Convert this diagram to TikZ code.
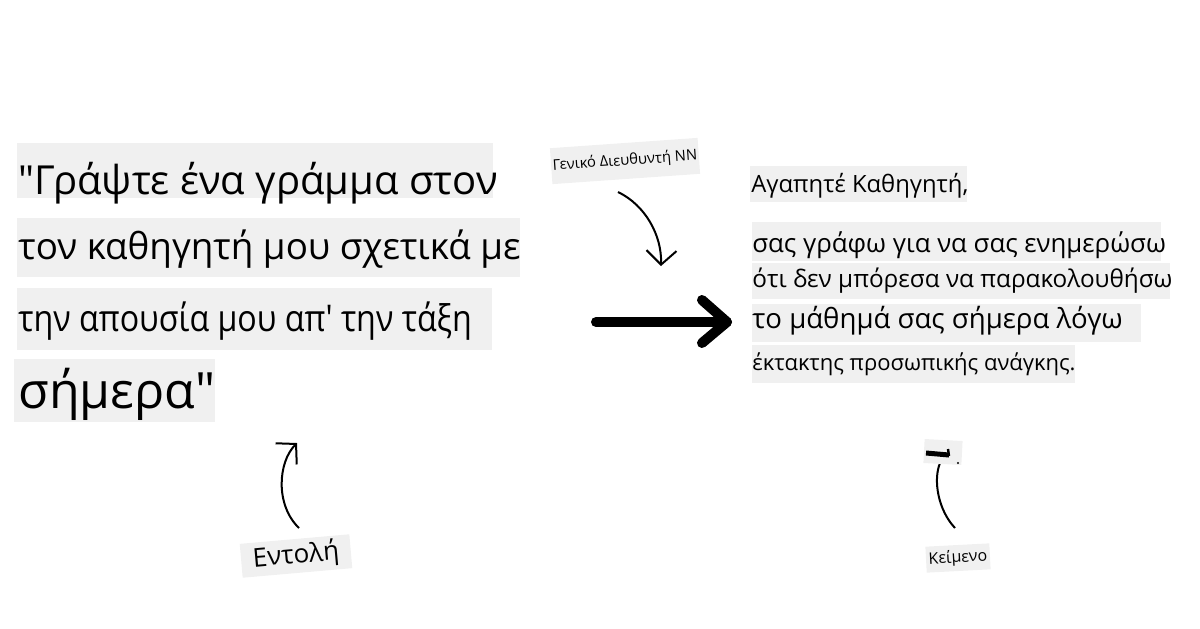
\documentclass[tikz,border=0pt]{standalone}
\usepackage{fontspec}
\setmainfont{Open Sans}[Ligatures=TeXOff]
\usetikzlibrary{arrows.meta}
\definecolor{boxgray}{HTML}{F0F0F0}
\tikzset{
  x=0.5pt, y=-0.5pt,
  txt/.style={inner sep=0pt, anchor=base west, text=black},
  bg/.style={fill=boxgray, draw=none},
  lbl/.style={fill=boxgray, inner sep=0pt, text=black},
  thin arrow/.style={line width=1pt, -{Straight Barb[length=7pt,width=15pt,line width=1pt]}},
  thin curve/.style={line width=1pt},
  big arrow/.style={line width=5pt, line cap=round, line join=round}
}
\newcommand{\fs}[1]{\fontsize{#1pt}{#1pt}\selectfont}
\begin{document}
\begin{tikzpicture}
\useasboundingbox (0,0) rectangle (1200,628);
% left prompt boxes
\fill[bg] (17,143) rectangle (493,198);
\fill[bg] (17,218) rectangle (520,277);
\fill[bg] (17,288) rectangle (492,350);
\fill[bg] (14,359) rectangle (215,422);
\node[txt] (p1) at (18,194) {\fs{20}"Γράψτε ένα γράμμα στον};
\node[txt] (p2) at (18,259) {\fs{18.4}τον καθηγητή μου σχετικά με};
\node[txt] (p3) at (18,331) {\scalebox{0.875}[1]{\fs{18.4}την απουσία μου απ' την τάξη}};
\node[txt] (p4) at (18,408) {\fs{25}σήμερα"};
% right output boxes
\fill[bg] (750,166) rectangle (967,202);
\fill[bg] (752,222) rectangle (1161,261);
\fill[bg] (752,263) rectangle (1170,299);
\fill[bg] (752,304) rectangle (1141,342);
\fill[bg] (752,345) rectangle (1075,383);
\node[txt] (o1) at (751,192) {\fs{11.9}Αγαπητέ Καθηγητή,};
\node[txt] (o2) at (752,252) {\fs{12.9}σας γράφω για να σας ενημερώσω};
\node[txt] (o3) at (752,287) {\fs{12.15}ότι δεν μπόρεσα να παρακολουθήσω};
\node[txt] (o4) at (752,328) {\fs{13.8}το μάθημά σας σήμερα λόγω};
\node[txt] (o5) at (752,370) {\fs{11}έκτακτης προσωπικής ανάγκης.};
% big arrow
\coordinate (bs) at (596,322);
\coordinate (be) at (727,322);
\draw[big arrow] (bs) -- (be);
\draw[big arrow] ([shift={(-25,-22)}]be) -- (be) -- ([shift={(-25,21)}]be);
% labels
\node[lbl, rotate=4, minimum width=74pt, minimum height=18pt] (gen) at (625,161) {\fs{7.4}Γενικό Διευθυντή ΝΝ};
\node[lbl, rotate=5, minimum width=55pt, minimum height=17pt] (ent) at (296,556) {\fs{13}Εντολή};
\node[lbl, rotate=3, minimum width=32pt, minimum height=13pt] (kei) at (958,558) {\fs{8}Κείμενο};
% curved arrows
\coordinate (g1) at (618,192);
\coordinate (g2) at (661,266);
\draw[thin arrow] (g1) .. controls (645,205) and (662,235) .. (g2);
\coordinate (e1) at (299,528);
\coordinate (e2) at (297,443);
\draw[thin arrow] (e1) .. controls (275,505) and (278,462) .. (e2);
\coordinate (k1) at (955,528);
\coordinate (k2) at (940,463);
\draw[thin curve] (k1) .. controls (938,510) and (933,480) .. (k2);
% fragment above Keimeno arrow
\node[lbl, rotate=-3, minimum width=19pt, minimum height=12pt] (frag) at (943,452) {};
\draw[line width=2.5pt] (926,453) -- (949,455);
\draw[line width=1.2pt] (948,449) -- (949,456);
\fill (958,463) circle (0.6pt);
\end{tikzpicture}
\end{document}
